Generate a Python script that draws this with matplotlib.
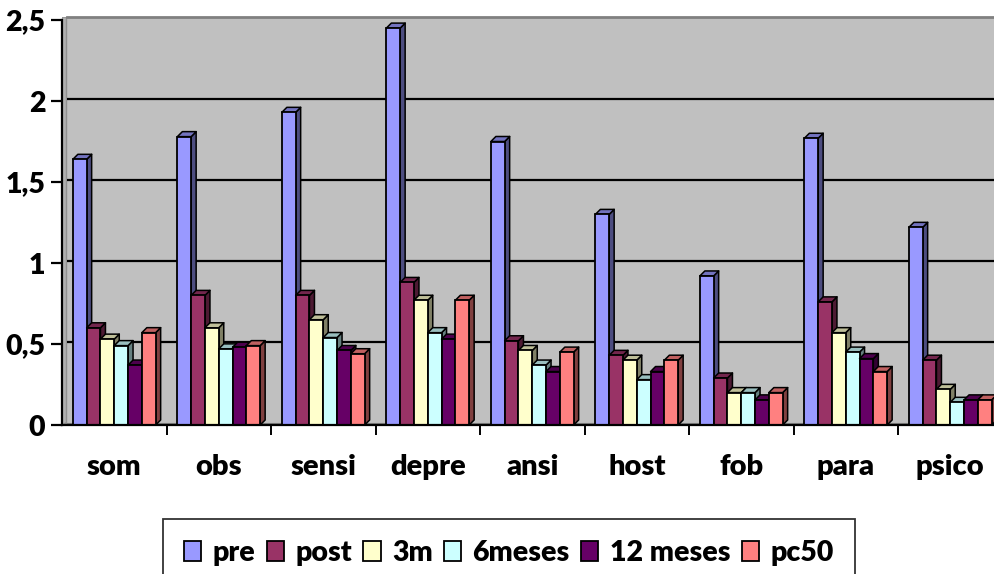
import matplotlib
matplotlib.use("Agg")
import matplotlib.pyplot as plt
from matplotlib.patches import Polygon
from matplotlib.ticker import FuncFormatter

categories = ["som", "obs", "sensi", "depre", "ansi", "host", "fob", "para", "psico"]
series_names = ["pre", "post", "3m", "6meses", "12 meses", "pc50"]
pre = [1.64, 1.78, 1.93, 2.45, 1.75, 1.30, 0.92, 1.77, 1.22]
post = [0.60, 0.80, 0.80, 0.88, 0.52, 0.43, 0.29, 0.76, 0.40]
m3 = [0.53, 0.60, 0.65, 0.77, 0.46, 0.40, 0.20, 0.57, 0.22]
m6 = [0.49, 0.47, 0.54, 0.57, 0.37, 0.28, 0.20, 0.45, 0.14]
m12 = [0.37, 0.48, 0.46, 0.53, 0.33, 0.33, 0.155, 0.41, 0.155]
pc50 = [0.57, 0.49, 0.44, 0.77, 0.45, 0.40, 0.20, 0.33, 0.155]
series = [pre, post, m3, m6, m12, pc50]
yticks = [0, 0.5, 1, 1.5, 2, 2.5]

front_colors = ["#9999FF", "#993366", "#FFFFCC", "#CCFFFF", "#660066", "#FF8080"]
side_colors = ["#4D4D80", "#4D1A33", "#808066", "#668080", "#330033", "#804040"]
top_colors = ["#7373BF", "#73264D", "#BFBF99", "#99BFBF", "#4D004D", "#BF6060"]

FONT = "Lato"
WEIGHT = "heavy"
W, H = 994, 574
fig = plt.figure(figsize=(W / 100, H / 100), dpi=100)
left_px, bottom_px, top_px = 62, 425, 20
cat_w_px = 104.5
ax = fig.add_axes([left_px / W, 1 - bottom_px / H,
                   9 * cat_w_px / W, (bottom_px - 17) / H])
ppu_y = (bottom_px - top_px) / 2.5
ymax = 2.5 + 3 / ppu_y
ax.set_xlim(-0.5, 8.5)
ax.set_ylim(0, ymax)
ax.set_facecolor("#C0C0C0")

dx = 5 / cat_w_px
dy = 5 / ppu_y
gdy = 2.4 / ppu_y

# side wall and floor
ax.add_patch(Polygon([(-0.5, 0), (-0.5 + dx * 0.9, gdy), (-0.5 + dx * 0.9, ymax),
                      (-0.5, ymax)], closed=True, facecolor="#B0B0B0",
                     edgecolor="#909090", lw=1, zorder=0.5))
ax.add_patch(Polygon([(-0.5, 0), (8.6, 0), (8.6, gdy), (-0.5 + dx * 0.9, gdy)],
                     closed=True, facecolor="#A0A0A0", edgecolor="#808080",
                     lw=0.8, zorder=0.5))
for v in yticks[1:-1]:
    ax.plot([-0.5 + dx * 0.9, 8.6], [v + gdy, v + gdy], color="black", lw=1.6,
            zorder=0.8, solid_capstyle="butt")

bw = 13.8 / cat_w_px
n = len(series)
for si, vals in enumerate(series):
    for ci, v in enumerate(vals):
        x0 = ci - n * bw / 2 + si * bw
        z = 2 + si
        ax.add_patch(Polygon([(x0 + bw, 0), (x0 + bw + dx, dy), (x0 + bw + dx, v + dy),
                              (x0 + bw, v)], closed=True, facecolor=side_colors[si],
                             edgecolor="black", lw=1.1, zorder=z, joinstyle="round"))
        ax.add_patch(Polygon([(x0, v), (x0 + dx, v + dy), (x0 + bw + dx, v + dy),
                              (x0 + bw, v)], closed=True, facecolor=top_colors[si],
                             edgecolor="black", lw=1.1, zorder=z, joinstyle="round"))
    xs = [ci - n * bw / 2 + si * bw for ci in range(len(vals))]
    ax.bar(xs, vals, width=bw, align="edge", color=front_colors[si],
           edgecolor="black", linewidth=1.3, zorder=2 + si + 0.5,
           label=series_names[si])

for s in ["top", "right"]:
    ax.spines[s].set_visible(False)
ax.plot([-0.5 + dx * 0.9, 8.6], [ymax, ymax], color="#808080", lw=2, zorder=0.9,
        clip_on=False)
ax.spines["left"].set_linewidth(1.6)
ax.spines["bottom"].set_linewidth(1.6)
ax.spines["left"].set_bounds(0, 2.5)
ax.spines["left"].set_zorder(20)
ax.spines["bottom"].set_zorder(20)

ax.set_yticks(yticks)
ax.yaxis.set_major_formatter(FuncFormatter(
    lambda v, p: ("%g" % v).replace(".", ",")))
ax.set_xticks([i + 0.5 for i in range(8)], minor=False)
ax.set_xticklabels([])
ax.tick_params(axis="x", which="major", length=7, width=1.4, direction="out")
ax.tick_params(axis="y", length=8, width=1.6, direction="out", pad=4)
for lab in ax.get_yticklabels():
    lab.set_fontfamily(FONT)
    lab.set_fontweight(WEIGHT)
    lab.set_fontsize(20.5)

for ci, c in enumerate(categories):
    ax.text(ci, -42 / ppu_y, c, ha="center", va="center", fontsize=21,
            fontweight=WEIGHT, fontfamily=FONT, clip_on=False)

handles, labels = ax.get_legend_handles_labels()
leg = fig.legend(handles, labels, loc="upper left", ncol=6,
                 bbox_to_anchor=(163 / W, 1 - 519 / H),
                 frameon=True, fancybox=False, edgecolor="black",
                 prop={"family": FONT, "weight": WEIGHT, "size": 20.5},
                 handlelength=0.6, handleheight=0.7, handletextpad=0.4,
                 columnspacing=0.4, borderpad=0.75, borderaxespad=0)
leg.get_frame().set_linewidth(1.3)

fig.savefig("out.png", dpi=100)
